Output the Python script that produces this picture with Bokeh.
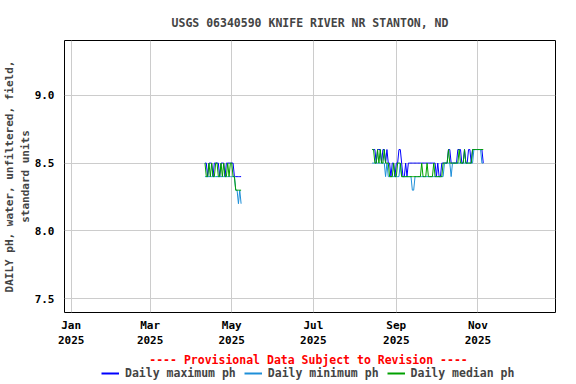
import numpy as np
import pandas as pd
from bokeh.plotting import figure
from bokeh.layouts import column
from bokeh.models import (ColumnDataSource, FixedTicker, Range1d, Label, Legend, LegendItem)
from bokeh.embed import file_html
from bokeh.resources import INLINE

# ---- data ----
seg1_start = "2025-04-11"
seg1_max = [8.5,8.5,8.4,8.5,8.5,8.5,8.4,8.5,8.5,8.5,8.5,8.4,8.5,8.5,8.5,8.4,8.5,8.5,8.5,8.5,8.5,8.5,8.4,8.4,8.4,8.4,8.4,8.4]
seg1_min = [8.4,8.4,8.4,8.4,8.4,8.4,8.4,8.4,8.4,8.4,8.4,8.4,8.4,8.4,8.4,8.4,8.4,8.4,8.4,8.4,8.4,8.4,8.4,8.3,8.3,8.2,8.3,8.2]
seg1_med = [8.5,8.4,8.4,8.5,8.4,8.5,8.4,8.4,8.5,8.5,8.4,8.4,8.5,8.4,8.5,8.4,8.4,8.5,8.4,8.5,8.5,8.4,8.4,8.3,8.3,8.3,8.3,8.3]

seg2_start = "2025-08-14"
seg2_max = [8.6,8.6,8.6,8.5,8.6,8.6,8.6,8.5,8.6,8.6,8.5,8.6,
            8.5,8.5,8.4,8.5,
            8.5,8.4,8.5,8.5,
            8.6,8.6,
            8.5,8.4,8.4,8.5,
            8.4,8.5,8.5,8.5,
            8.5,8.5,8.5,
            8.5,8.5,8.5,8.5,8.5,8.5,8.5,8.5,8.5,8.5,8.5,8.5,8.5,8.5,8.5,
            8.4,8.5,8.4,8.4,
            8.5,8.5,8.5,
            8.5,8.5,8.6,
            8.6,8.5,
            8.5,8.5,8.5,8.5,8.6,
            8.6,8.6,8.5,8.5,8.6,
            8.5,8.5,8.6,8.6,8.5,
            8.6,8.6,8.6,8.6,8.6,8.6,8.6,8.6,8.5]
seg2_min = [8.5,8.5,8.5,8.5,8.5,8.5,8.5,8.5,8.5,8.5,8.4,8.5,
            8.4,8.4,8.4,8.4,
            8.4,8.4,8.4,8.4,
            8.4,8.5,
            8.4,8.4,8.4,8.4,
            8.4,8.4,8.4,8.4,
            8.3,8.3,8.4,
            8.4,8.4,8.4,8.4,8.4,8.4,8.4,8.4,8.4,8.4,8.4,8.4,8.4,8.4,8.4,
            8.4,8.4,8.4,8.4,
            8.4,8.4,8.5,
            8.5,8.5,8.5,
            8.5,8.4,
            8.5,8.5,8.5,8.5,8.5,
            8.5,8.5,8.5,8.5,8.5,
            8.5,8.5,8.5,8.5,8.5,
            8.5,8.6,8.6,8.6,8.6,8.6,8.6,8.5,8.5]
seg2_med = [8.6,8.6,8.5,8.5,8.6,8.5,8.6,8.5,8.5,8.6,8.5,8.5,
            8.5,8.4,8.4,8.4,
            8.5,8.4,8.4,8.5,
            8.5,8.5,
            8.4,8.4,8.4,8.4,
            8.4,8.4,8.4,8.4,
            8.4,8.4,8.4,
            8.4,8.4,8.4,8.4,8.5,8.4,8.4,8.4,8.5,8.4,8.4,8.4,8.4,8.5,8.4,
            8.4,8.4,8.4,8.4,
            8.4,8.5,8.5,
            8.5,8.5,8.6,
            8.5,8.5,
            8.5,8.5,8.5,8.5,8.5,
            8.6,8.5,8.5,8.5,8.6,
            8.5,8.5,8.5,8.5,8.5,
            8.6,8.6,8.6,8.6,8.6,8.6,8.6,8.6,8.6]

y_ticks = [7.5, 8.0, 8.5, 9.0]
x_tick_dates = ["2025-01-01", "2025-03-01", "2025-05-01", "2025-07-01", "2025-09-01", "2025-11-01"]
x_tick_labels = ["Jan\n2025", "Mar\n2025", "May\n2025", "Jul\n2025", "Sep\n2025", "Nov\n2025"]

title = "USGS 06340590 KNIFE RIVER NR STANTON, ND"
ylabel = "DAILY pH, water, unfiltered, field,\nstandard units"
provisional = "---- Provisional Data Subject to Revision ----"
series_names = ["Daily maximum ph", "Daily minimum ph", "Daily median ph"]
colors = ["#0000ff", "#1e8fd8", "#00a000"]

# ---- build ----
d1 = pd.date_range(seg1_start, periods=len(seg1_max), freq="D")
d2 = pd.date_range(seg2_start, periods=len(seg2_max), freq="D")
gap = pd.DatetimeIndex([d1[-1] + pd.Timedelta(days=1)])
dates = d1.append(gap).append(d2)

def join(a, b):
    return list(a) + [np.nan] + list(b)

src = ColumnDataSource(dict(
    date=dates,
    vmax=join(seg1_max, seg2_max),
    vmin=join(seg1_min, seg2_min),
    vmed=join(seg1_med, seg2_med),
))

FONT = "DejaVu Sans Mono"
FS = "11.5px"

p = figure(width=576, height=350, x_axis_type="datetime",
           output_backend="svg", toolbar_location=None,
           x_range=Range1d(pd.Timestamp("2024-12-27"), pd.Timestamp("2025-12-29")),
           y_range=Range1d(7.397, 9.405),
           min_border_left=64, min_border_right=21, min_border_top=40, min_border_bottom=37)

p.title.text = title
p.title.align = "center"
p.title.text_font = FONT
p.title.text_font_size = FS
p.title.text_font_style = "bold"
p.title.offset = 0
p.title.standoff = 21

for name, c in zip(["vmax", "vmin", "vmed"], colors):
    p.line("date", name, source=src, color=c, line_width=1)

tick_ms = [pd.Timestamp(t).value // 10**6 for t in x_tick_dates]
p.xaxis.ticker = FixedTicker(ticks=tick_ms)
p.xaxis.major_label_overrides = {t: l for t, l in zip(tick_ms, x_tick_labels)}
p.yaxis.ticker = FixedTicker(ticks=y_ticks)
p.yaxis.major_label_overrides = {v: f"{v:.1f}" for v in y_ticks}

for ax in (p.xaxis, p.yaxis):
    ax.major_label_text_font = FONT
    ax.major_label_text_font_size = "11px"
    ax.major_label_text_font_style = "bold"
    ax.major_label_text_color = "black"
    ax.axis_line_color = None
    ax.major_tick_line_color = None
    ax.minor_tick_line_color = None
    ax.major_tick_out = 0
    ax.major_tick_in = 0
    ax.minor_tick_out = 0
p.xaxis.major_label_standoff = 6
p.yaxis.major_label_standoff = 10

p.yaxis.axis_label = ylabel
p.yaxis.axis_label_text_font = FONT
p.yaxis.axis_label_text_font_size = "11px"
p.yaxis.axis_label_text_font_style = "bold"
p.yaxis.axis_label_standoff = 0

p.outline_line_color = "black"
p.outline_line_width = 1
p.grid.grid_line_color = "#cccccc"
p.grid.grid_line_width = 1

# ---- legend strip (its frame is aligned with the main plot's frame) ----
p2 = figure(width=576, height=34, output_backend="svg", toolbar_location=None,
            x_range=Range1d(0, 1), y_range=Range1d(0, 1),
            min_border_left=0, min_border_right=0, min_border_top=0, min_border_bottom=0)
p2.axis.visible = False
p2.grid.visible = False
p2.outline_line_color = None

# proxy renderers for the legend keys, lying outside the strip's visible range
leg_renderers = [p2.line(x=[-5, -4], y=[-5, -5], line_color=c, line_width=2) for c in colors]
legend = Legend(items=[LegendItem(label=n, renderers=[r]) for n, r in zip(series_names, leg_renderers)],
                orientation="horizontal", location=(37, 4),
                label_text_font=FONT, label_text_font_size=FS, label_text_font_style="bold",
                glyph_width=18, glyph_height=12, spacing=8, padding=0, margin=0,
                label_standoff=6, border_line_color=None, background_fill_alpha=0)
p2.add_layout(legend, "center")

prov = Label(x=244, y=25, x_units="screen", y_units="screen", text=provisional,
             text_align="center", text_baseline="middle", text_color="red",
             text_font=FONT, text_font_size=FS, text_font_style="bold")
p2.add_layout(prov)

layout = column(p, p2, spacing=0)
open("out.html", "w").write(file_html(layout, INLINE))
